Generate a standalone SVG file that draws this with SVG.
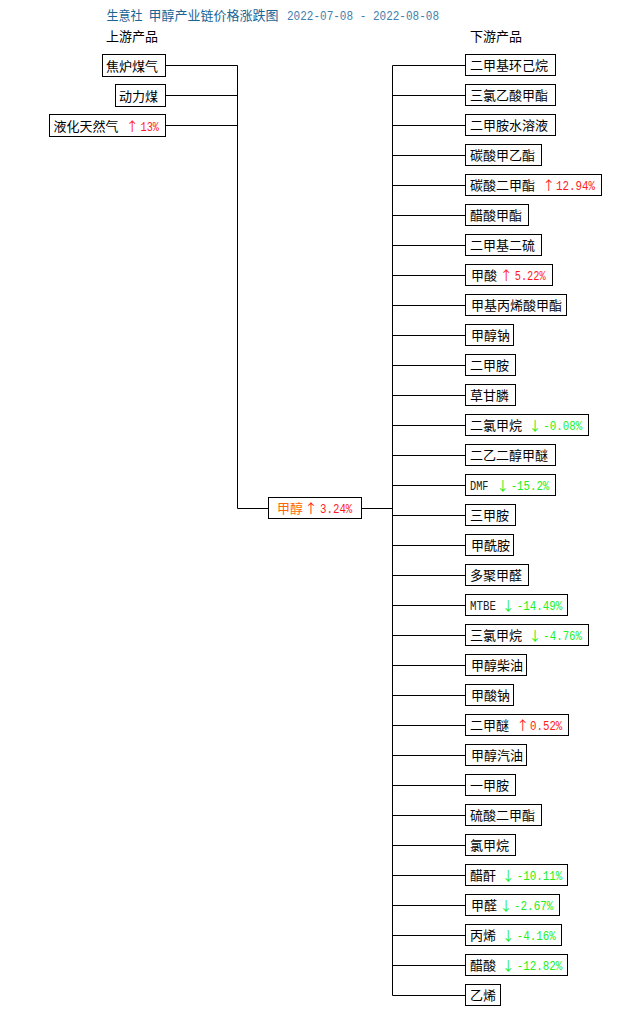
<svg xmlns="http://www.w3.org/2000/svg" width="630" height="1015" viewBox="0 0 630 1015">
<style>
.bg{fill:#ffffff}
.box{fill:#ffffff;stroke:#000000;stroke-width:1}
.ln{stroke:#000000;stroke-width:1;fill:none}
.cn{font-family:"Noto Sans CJK SC","Liberation Sans",sans-serif;font-size:13px;fill:#000000}
.hd{font-family:"Noto Sans CJK SC","Liberation Sans",sans-serif;font-size:13px;fill:#000000}
.tt{font-family:"Noto Sans CJK SC","Liberation Sans",sans-serif;font-size:13px;fill:#1a6496}
.dt{font-family:"Liberation Mono","DejaVu Sans Mono",monospace;font-size:12.5px;fill:#3f80ac}
.ar{font-family:"Noto Sans CJK SC","DejaVu Sans",sans-serif;font-size:13px;text-anchor:middle}
.pc{font-family:"Liberation Mono","DejaVu Sans Mono",monospace;font-size:12.5px}
.up{fill:#ff1a1a}
.dn{fill:#22ee22}
.mt{font-family:"Liberation Mono","DejaVu Sans Mono",monospace;font-size:12.5px;fill:#222222}
.or{fill:#ff6600}
</style>
<rect class="bg" x="0" y="0" width="630" height="1015"/>
<g id="header">
<text class="tt" x="106.5" y="20" textLength="36" lengthAdjust="spacingAndGlyphs">生意社</text>
<text class="tt" x="148.5" y="20" textLength="130" lengthAdjust="spacingAndGlyphs">甲醇产业链价格涨跌图</text>
<text class="dt" x="287" y="20" textLength="152" lengthAdjust="spacingAndGlyphs">2022-07-08 - 2022-08-08</text>
<text class="hd" x="106" y="41">上游产品</text>
<text class="hd" x="470" y="41">下游产品</text>
</g>
<g id="connectors">
<path class="ln" d="M165.5 65.5H237.5M165.5 95.5H237.5M165.5 125.5H237.5M237.5 65.5V508.5H268.5M361.5 508.5H392.5M392.5 65.5V995.5"/>
<path class="ln" d="M392.5 65.5H465.5M392.5 95.5H465.5M392.5 125.5H465.5M392.5 155.5H465.5M392.5 185.5H465.5M392.5 215.5H465.5M392.5 245.5H465.5M392.5 275.5H465.5M392.5 305.5H465.5M392.5 335.5H465.5M392.5 365.5H465.5M392.5 395.5H465.5M392.5 425.5H465.5M392.5 455.5H465.5M392.5 485.5H465.5M392.5 515.5H465.5M392.5 545.5H465.5M392.5 575.5H465.5M392.5 605.5H465.5M392.5 635.5H465.5M392.5 665.5H465.5M392.5 695.5H465.5M392.5 725.5H465.5M392.5 755.5H465.5M392.5 785.5H465.5M392.5 815.5H465.5M392.5 845.5H465.5M392.5 875.5H465.5M392.5 905.5H465.5M392.5 935.5H465.5M392.5 965.5H465.5M392.5 995.5H465.5"/>
</g>
<g id="up-焦炉煤气"><rect class="box" x="102.5" y="54.5" width="63" height="22"/><text class="cn" x="106" y="70.5">焦炉煤气</text></g>
<g id="up-动力煤"><rect class="box" x="115.5" y="84.5" width="50" height="22"/><text class="cn" x="119" y="100.5">动力煤</text></g>
<g id="up-液化天然气"><rect class="box" x="49.5" y="114.5" width="116" height="22"/><text class="cn" x="53.5" y="130.5">液化天然气</text><text class="ar up" x="132.3" y="130.5">↑</text><text class="pc up" x="140.5" y="130.5" textLength="18.5" lengthAdjust="spacingAndGlyphs">13%</text></g>
<g id="center-甲醇"><rect class="box" x="268.5" y="497.5" width="93" height="21"/><text class="cn or" x="277" y="513">甲醇</text><text class="ar up" x="311" y="513">↑</text><text class="pc up" x="320" y="513" textLength="32.3" lengthAdjust="spacingAndGlyphs">3.24%</text></g>
<g id="d0"><rect class="box" x="465.5" y="54.5" width="90" height="21"/><text class="cn" x="470" y="70">二甲基环己烷</text></g>
<g id="d1"><rect class="box" x="465.5" y="84.5" width="90" height="21"/><text class="cn" x="470" y="100">三氯乙酸甲酯</text></g>
<g id="d2"><rect class="box" x="465.5" y="114.5" width="90" height="21"/><text class="cn" x="470" y="130">二甲胺水溶液</text></g>
<g id="d3"><rect class="box" x="465.5" y="144.5" width="76" height="21"/><text class="cn" x="470" y="160">碳酸甲乙酯</text></g>
<g id="d4"><rect class="box" x="465.5" y="174.5" width="136" height="21"/><text class="cn" x="470" y="190">碳酸二甲酯</text><text class="ar up" x="548.7" y="190">↑</text><text class="pc up" x="556" y="190" textLength="39" lengthAdjust="spacingAndGlyphs">12.94%</text></g>
<g id="d5"><rect class="box" x="465.5" y="204.5" width="63" height="21"/><text class="cn" x="470" y="220">醋酸甲酯</text></g>
<g id="d6"><rect class="box" x="465.5" y="234.5" width="76" height="21"/><text class="cn" x="470" y="250">二甲基二硫</text></g>
<g id="d7"><rect class="box" x="465.5" y="264.5" width="87" height="21"/><text class="cn" x="471" y="280">甲酸</text><text class="ar up" x="506.3" y="280">↑</text><text class="pc up" x="514.7" y="280" textLength="31" lengthAdjust="spacingAndGlyphs">5.22%</text></g>
<g id="d8"><rect class="box" x="465.5" y="294.5" width="101" height="21"/><text class="cn" x="471" y="310">甲基丙烯酸甲酯</text></g>
<g id="d9"><rect class="box" x="465.5" y="324.5" width="48" height="21"/><text class="cn" x="471" y="340">甲醇钠</text></g>
<g id="d10"><rect class="box" x="465.5" y="354.5" width="50" height="21"/><text class="cn" x="470" y="370">二甲胺</text></g>
<g id="d11"><rect class="box" x="465.5" y="384.5" width="50" height="21"/><text class="cn" x="470" y="400">草甘膦</text></g>
<g id="d12"><rect class="box" x="465.5" y="414.5" width="123" height="21"/><text class="cn" x="470" y="430">二氯甲烷</text><text class="ar dn" x="535" y="430">↓</text><text class="pc dn" x="543.3" y="430" textLength="39" lengthAdjust="spacingAndGlyphs">-0.08%</text></g>
<g id="d13"><rect class="box" x="465.5" y="444.5" width="90" height="21"/><text class="cn" x="470" y="460">二乙二醇甲醚</text></g>
<g id="d14"><rect class="box" x="465.5" y="474.5" width="90" height="21"/><text class="mt" x="470" y="490" textLength="18.5" lengthAdjust="spacingAndGlyphs">DMF</text><text class="ar dn" x="502.7" y="490">↓</text><text class="pc dn" x="510.7" y="490" textLength="38.6" lengthAdjust="spacingAndGlyphs">-15.2%</text></g>
<g id="d15"><rect class="box" x="465.5" y="504.5" width="50" height="21"/><text class="cn" x="470" y="520">三甲胺</text></g>
<g id="d16"><rect class="box" x="465.5" y="534.5" width="48" height="21"/><text class="cn" x="471" y="550">甲酰胺</text></g>
<g id="d17"><rect class="box" x="465.5" y="564.5" width="63" height="21"/><text class="cn" x="470" y="580">多聚甲醛</text></g>
<g id="d18"><rect class="box" x="465.5" y="594.5" width="102" height="21"/><text class="mt" x="470" y="610" textLength="26" lengthAdjust="spacingAndGlyphs">MTBE</text><text class="ar dn" x="508.3" y="610">↓</text><text class="pc dn" x="516.7" y="610" textLength="45.6" lengthAdjust="spacingAndGlyphs">-14.49%</text></g>
<g id="d19"><rect class="box" x="465.5" y="624.5" width="123" height="21"/><text class="cn" x="470" y="640">三氯甲烷</text><text class="ar dn" x="535" y="640">↓</text><text class="pc dn" x="543.3" y="640" textLength="38.7" lengthAdjust="spacingAndGlyphs">-4.76%</text></g>
<g id="d20"><rect class="box" x="465.5" y="654.5" width="61" height="21"/><text class="cn" x="471" y="670">甲醇柴油</text></g>
<g id="d21"><rect class="box" x="465.5" y="684.5" width="48" height="21"/><text class="cn" x="471" y="700">甲酸钠</text></g>
<g id="d22"><rect class="box" x="465.5" y="714.5" width="103" height="21"/><text class="cn" x="470" y="730">二甲醚</text><text class="ar up" x="522.7" y="730">↑</text><text class="pc up" x="530" y="730" textLength="32.3" lengthAdjust="spacingAndGlyphs">0.52%</text></g>
<g id="d23"><rect class="box" x="465.5" y="744.5" width="61" height="21"/><text class="cn" x="471" y="760">甲醇汽油</text></g>
<g id="d24"><rect class="box" x="465.5" y="774.5" width="50" height="21"/><text class="cn" x="470" y="790">一甲胺</text></g>
<g id="d25"><rect class="box" x="465.5" y="804.5" width="76" height="21"/><text class="cn" x="470" y="820">硫酸二甲酯</text></g>
<g id="d26"><rect class="box" x="465.5" y="834.5" width="50" height="21"/><text class="cn" x="470" y="850">氯甲烷</text></g>
<g id="d27"><rect class="box" x="465.5" y="864.5" width="102" height="21"/><text class="cn" x="470" y="880">醋酐</text><text class="ar dn" x="508.3" y="880">↓</text><text class="pc dn" x="516.7" y="880" textLength="45.6" lengthAdjust="spacingAndGlyphs">-10.11%</text></g>
<g id="d28"><rect class="box" x="465.5" y="894.5" width="94" height="21"/><text class="cn" x="471" y="910">甲醛</text><text class="ar dn" x="506" y="910">↓</text><text class="pc dn" x="514" y="910" textLength="39.3" lengthAdjust="spacingAndGlyphs">-2.67%</text></g>
<g id="d29"><rect class="box" x="465.5" y="924.5" width="96" height="21"/><text class="cn" x="470" y="940">丙烯</text><text class="ar dn" x="508.3" y="940">↓</text><text class="pc dn" x="516.7" y="940" textLength="39" lengthAdjust="spacingAndGlyphs">-4.16%</text></g>
<g id="d30"><rect class="box" x="465.5" y="954.5" width="102" height="21"/><text class="cn" x="470" y="970">醋酸</text><text class="ar dn" x="508.3" y="970">↓</text><text class="pc dn" x="516.7" y="970" textLength="45.6" lengthAdjust="spacingAndGlyphs">-12.82%</text></g>
<g id="d31"><rect class="box" x="465.5" y="984.5" width="35" height="21"/><text class="cn" x="470" y="1000">乙烯</text></g>
</svg>
